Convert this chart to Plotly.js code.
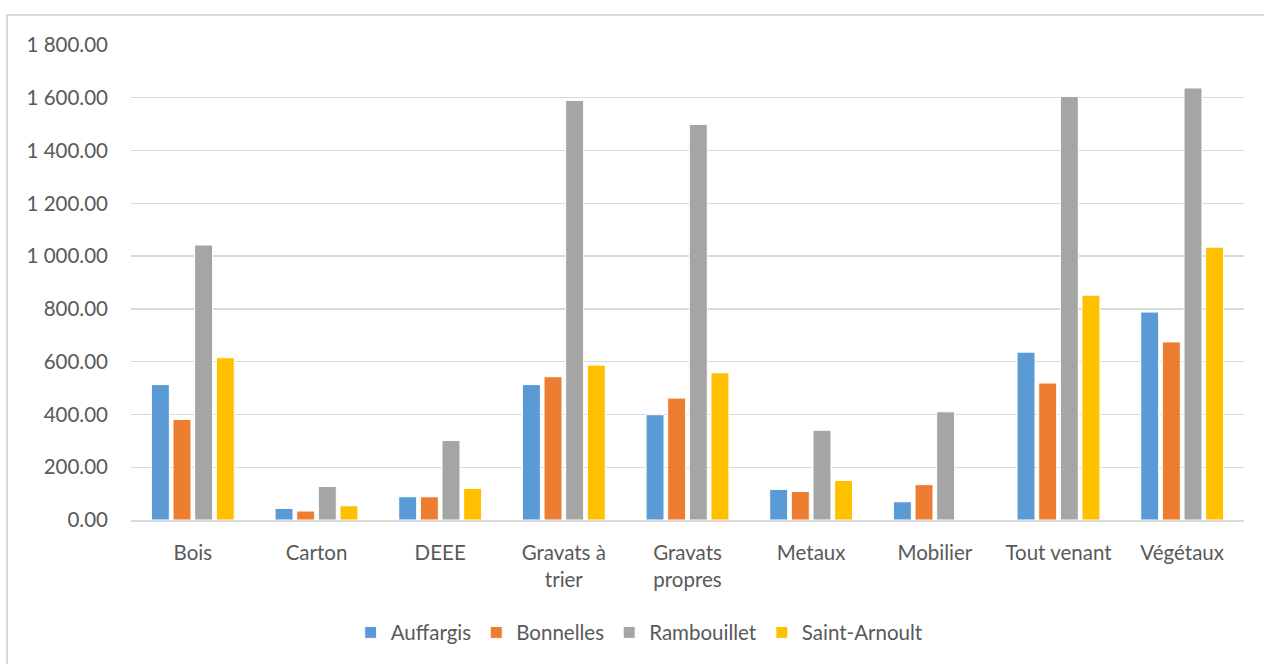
<!DOCTYPE html>
<html>
<head>
<meta charset="utf-8">
<script src="https://cdn.plot.ly/plotly-3.0.1.min.js"></script>
<style>
  html, body { margin: 0; padding: 0; background: #fff; }
  #wrap { position: relative; width: 1264px; height: 664px; overflow: hidden; }
  #frame { position: absolute; left: 6px; top: 14px; width: 1300px; height: 700px;
           border-left: 2px solid #d9d9d9; border-top: 2px solid #d9d9d9; pointer-events: none; }
  #chart { position: absolute; left: 0; top: 0; width: 1264px; height: 664px; }
</style>
</head>
<body>
<div id="wrap">
  <div id="chart"></div>
  <div id="frame"></div>
</div>
<script>
const categories = ["Bois", "Carton", "DEEE", "Gravats à<br>trier", "Gravats<br>propres", "Metaux", "Mobilier", "Tout venant", "Végétaux"];
const seriesNames = ["Auffargis", "Bonnelles", "Rambouillet", "Saint-Arnoult"];
const auffargis    = [513, 44, 88, 513, 399, 116, 69, 636, 788];
const bonnelles    = [381, 34, 88, 543, 462, 108, 134, 519, 675];
const rambouillet  = [1042, 127, 301, 1590, 1499, 340, 410, 1605, 1637];
const saintArnoult = [615, 54, 120, 587, 558, 150, null, 852, 1034];
const colors = ["#5b9bd5", "#ed7d31", "#a5a5a5", "#ffc000"];
const yTicks = [0, 200, 400, 600, 800, 1000, 1200, 1400, 1600, 1800];

const values = [auffargis, bonnelles, rambouillet, saintArnoult];
const traces = values.map((v, i) => ({
  type: "bar",
  name: seriesNames[i],
  x: categories,
  y: v,
  marker: { color: colors[i], line: { color: "#ffffff", width: 1 } },
  hoverinfo: "x+y+name"
}));

const font = { family: "Lato, 'Open Sans', sans-serif", size: 20.5, color: "#595959" };

const layout = {
  width: 1264, height: 664,
  margin: { l: 131, r: 20, t: 45, b: 142 },
  paper_bgcolor: "rgba(0,0,0,0)",
  plot_bgcolor: "#ffffff",
  font: font,
  separators: ". ",
  barmode: "group",
  bargap: 0.3,
  bargroupgap: 0.17,
  showlegend: true,
  legend: {
    orientation: "h", x: 0.457, xanchor: "center", y: -0.237, yanchor: "middle",
    font: font, traceorder: "normal", itemwidth: 30
  },
  xaxis: {
    type: "category",
    showgrid: false,
    showline: true, linecolor: "#d9d9d9", linewidth: 1.5,
    ticks: "", tickfont: font,
    ticklabelstandoff: 14,
    fixedrange: true
  },
  yaxis: {
    range: [0, 1800],
    tickvals: yTicks,
    tickformat: ",.2f",
    showgrid: true, gridcolor: "#d9d9d9", gridwidth: 1.3,
    zeroline: false, showline: false,
    ticks: "", ticklen: 0, tickfont: font,
    ticklabelstandoff: 22,
    fixedrange: true
  }
};

Plotly.newPlot("chart", traces, layout, { displayModeBar: false, staticPlot: true });
</script>
</body>
</html>
